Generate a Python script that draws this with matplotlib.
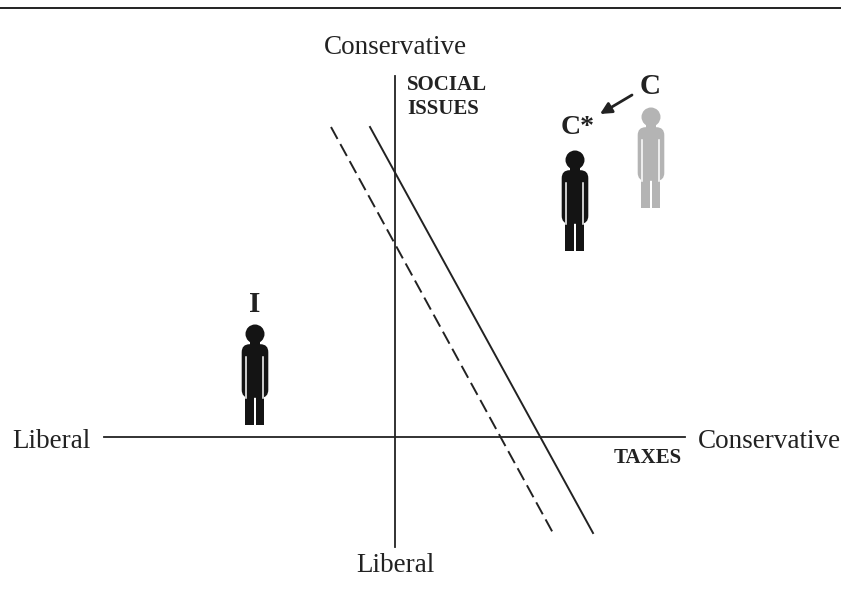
import matplotlib
matplotlib.use("Agg")
import matplotlib.pyplot as plt
from matplotlib.patches import Circle, Rectangle, FancyBboxPatch

W, H = 841, 607

# axes run in picture pixels, y pointing down
h_axis_x = [104, 685]
h_axis_y = [437, 437]
v_axis_x = [395, 395]
v_axis_y = [76, 547]
solid_x = [370, 593]
solid_y = [127, 533]
dashed_x = [331, 553]
dashed_y = [127, 533]
rule_x = [0, 841]
rule_y = [8, 8]

# people: name, x centre, y of top of head, colour
people_names = ["I", "C*", "C"]
people_x = [255, 575, 651]
people_top = [325, 151, 108]
people_colors = ["#141414", "#141414", "#b4b4b4"]

SERIF = ["Liberation Serif", "DejaVu Serif"]
INK = "#222222"


def draw_person(ax, cx, top, color):
    # head and neck
    ax.add_patch(Circle((cx, top + 9), 9.5, fc=color, ec="none"))
    ax.add_patch(Rectangle((cx - 5, top + 15), 10, 6, fc=color, ec="none"))
    # torso with the arms
    ax.add_patch(FancyBboxPatch((cx - 9.5, top + 23), 19, 46,
                                boxstyle="round,pad=3.8,rounding_size=8",
                                fc=color, ec="none"))
    # legs
    ax.add_patch(Rectangle((cx - 9.5, top + 68), 8.7, 32, fc=color, ec="none"))
    ax.add_patch(Rectangle((cx + 0.8, top + 68), 8.7, 32, fc=color, ec="none"))
    # white slits between arms and body
    ax.plot([cx - 8.5, cx - 8.5], [top + 32, top + 73], color="white", lw=1.1)
    ax.plot([cx + 8.5, cx + 8.5], [top + 32, top + 73], color="white", lw=1.1)


fig = plt.figure(figsize=(W / 100, H / 100), dpi=100)
ax = fig.add_axes([0, 0, 1, 1])
ax.set_xlim(0, W)
ax.set_ylim(H, 0)
ax.axis("off")

ax.plot(rule_x, rule_y, color=INK, lw=1.4)
ax.plot(h_axis_x, h_axis_y, color=INK, lw=1.3)
ax.plot(v_axis_x, v_axis_y, color=INK, lw=1.3)
ax.plot(solid_x, solid_y, color=INK, lw=1.4)
ax.plot(dashed_x, dashed_y, color=INK, lw=1.4, dashes=(7, 3))

for name, x, top, c in zip(people_names, people_x, people_top, people_colors):
    draw_person(ax, x, top, c)

ax.text(395, 48, "Conservative", family=SERIF, fontsize=19.5, ha="center", va="center", color=INK)
ax.text(395, 566, "Liberal", family=SERIF, fontsize=19.5, ha="center", va="center", color=INK)
ax.text(51, 441, "Liberal", family=SERIF, fontsize=19.5, ha="center", va="center", color=INK)
ax.text(769, 441, "Conservative", family=SERIF, fontsize=19.5, ha="center", va="center", color=INK)
ax.text(407, 85, "SOCIAL", family=SERIF, fontsize=15, weight="bold", ha="left", va="center", color=INK)
ax.text(407, 109, "ISSUES", family=SERIF, fontsize=15, weight="bold", ha="left", va="center", color=INK)
ax.text(648, 458, "TAXES", family=SERIF, fontsize=15, weight="bold", ha="center", va="center", color=INK)
ax.text(255, 304, "I", family=SERIF, fontsize=21, weight="bold", ha="center", va="center", color=INK)
ax.text(578, 128, "C*", family=SERIF, fontsize=20, weight="bold", ha="center", va="center", color=INK)
ax.text(650, 86, "C", family=SERIF, fontsize=21, weight="bold", ha="center", va="center", color=INK)
ax.annotate("", xy=(600, 114), xytext=(632, 95),
            arrowprops=dict(arrowstyle="-|>", color=INK, lw=2, mutation_scale=17,
                            shrinkA=0, shrinkB=0))

fig.savefig("out.png", dpi=100)
